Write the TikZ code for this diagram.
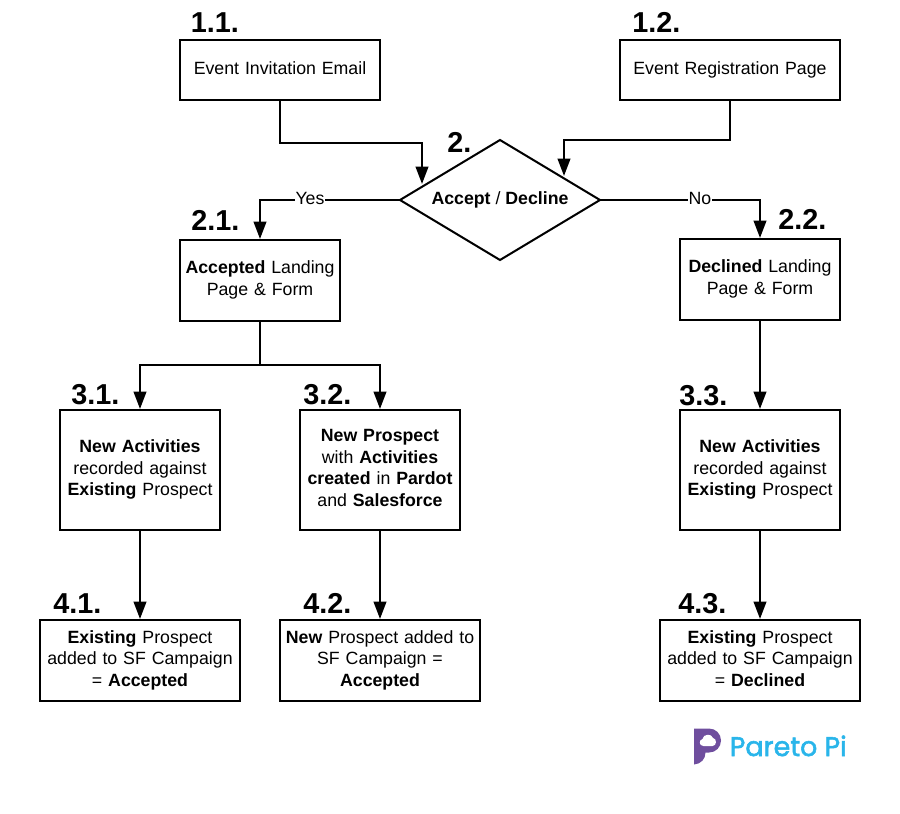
\documentclass[tikz,border=0pt]{standalone}
\usepackage{fontspec}
\setmainfont{Liberation Sans}
\newfontfamily\logofont[FakeBold=2]{Poppins}
\usetikzlibrary{arrows.meta,shapes.geometric}
\definecolor{logoblue}{HTML}{29B5EA}
\definecolor{logopurple}{HTML}{6F4E9E}
\tikzset{
  x=0.75pt,y=-0.75pt,
  flowbox/.style={draw=black,line width=1.5pt,fill=white,align=center,inner sep=0pt,font=\bodyfont},
  numlabel/.style={font=\numfont,anchor=base west,inner sep=0pt},
  conn/.style={draw=black,line width=1.5pt,shorten >=0.8pt,-{Triangle[length=13pt,width=9.5pt]}},
  plainconn/.style={draw=black,line width=1.5pt},
  edgetext/.style={fill=white,inner sep=0.6pt,font=\bodyfont}
}
\newcommand{\bodyfont}{\fontsize{13.3}{16.2}\selectfont}
\newcommand{\numfont}{\fontsize{21.6}{26}\selectfont\bfseries}
\newcommand{\boxat}[6]{% name, x1, y1, x2, y2, text
  \pgfmathsetmacro{\bw}{(#4-#2)*0.75}
  \pgfmathsetmacro{\bh}{(#5-#3)*0.75}
  \node[flowbox,minimum width=\bw pt,minimum height=\bh pt,text width=\bw pt-1pt,outer sep=0pt] (#1) at ({(#2+#4)/2},{(#3+#5)/2}) {\strut#6\strut\vspace{0.3pt}};}
\begin{document}
\begin{tikzpicture}
\useasboundingbox (0,0) rectangle (900,814);
\boxat{a1}{180}{40}{380}{100}{Event Invitation Email}
\boxat{a2}{620}{40}{840}{100}{Event Registration Page}
\node[diamond,draw=black,line width=1.5pt,minimum width=150pt,minimum height=90pt,aspect=1.667,inner sep=0pt,outer sep=0pt,font=\bodyfont] (dia) at (500,200) {\makebox[0pt]{\raisebox{2pt}{\textbf{Accept} / \textbf{Decline}}}};
\boxat{b1}{180}{240}{340}{321}{\textbf{Accepted} Landing\\Page \& Form}
\boxat{b2}{680}{239}{840}{320}{\textbf{Declined} Landing\\Page \& Form}
\boxat{c1}{60}{410}{220}{530}{\textbf{New Activities}\\recorded against\\\textbf{Existing} Prospect}
\boxat{c2}{300}{410}{460}{530}{\textbf{New Prospect}\\with \textbf{Activities}\\\textbf{created} in \textbf{Pardot}\\and \textbf{Salesforce}}
\boxat{c3}{680}{410}{840}{530}{\textbf{New Activities}\\recorded against\\\textbf{Existing} Prospect}
\boxat{d1}{40}{620}{240}{701}{\textbf{Existing} Prospect\\added to SF Campaign\\= \textbf{Accepted}}
\boxat{d2}{280}{620}{480}{701}{\textbf{New} Prospect added to\\SF Campaign =\\\textbf{Accepted}}
\boxat{d3}{660}{620}{860}{701}{\textbf{Existing} Prospect\\added to SF Campaign\\= \textbf{Declined}}

\node[numlabel] (n11) at (190.5,32) {1.1.};
\node[numlabel] (n12) at (632,32) {1.2.};
\node[numlabel] (n2) at (447,152) {2.};
\node[numlabel] (n21) at (191,230) {2.1.};
\node[numlabel] (n22) at (778,229) {2.2.};
\node[numlabel] (n31) at (71,404) {3.1.};
\node[numlabel] (n32) at (303,404) {3.2.};
\node[numlabel] (n33) at (679,405) {3.3.};
\node[numlabel] (n41) at (53,613) {4.1.};
\node[numlabel] (n42) at (303,613) {4.2.};
\node[numlabel] (n43) at (678,613) {4.3.};

\coordinate (e1) at (422,185);
\coordinate (e2) at (564,177);
\draw[conn] (a1.south) -- (280,142.5) -- (422,142.5) -- (e1);
\draw[conn] (a2.south) -- (730,140) -- (564,140) -- (e2);
\draw[conn] (dia.west) -- node[edgetext,pos=0.643,yshift=1.5pt] (yes) {Yes} (260,200) -- (b1.north);
\draw[conn] (dia.east) -- node[edgetext,pos=0.625,yshift=1.5pt] (no) {No} (760,200) -- (b2.north);
\coordinate (fork) at (260,365);
\draw[plainconn] (b1.south) -- (fork);
\draw[conn] (fork) -- (140,365) -- (c1.north);
\draw[conn] (fork) -- (380,365) -- (c2.north);
\draw[conn] (b2.south) -- (c3.north);
\draw[conn] (c1.south) -- (d1.north -| c1.south);
\draw[conn] (c2.south) -- (d2.north);
\draw[conn] (c3.south) -- (d3.north -| c3.south);

% logo
\fill[logopurple] (694,728.5) -- (709,728.5) .. controls (716,728.5) and (721,734) .. (721,740.5) .. controls (721,747) and (716,752.5) .. (709,752.5) -- (705.5,752.5) .. controls (705.5,759) and (701,764) .. (694,764.5) -- cycle;
\fill[white] (703.5,746) .. controls (699,746) and (698.5,740) .. (702.5,739) .. controls (703,734) and (711.5,733) .. (713,738) .. controls (717,738.5) and (717,746) .. (712.5,746) -- cycle;
\node[font=\fontsize{20.2}{24}\selectfont\logofont,text=logoblue,anchor=base west,inner sep=0pt] (logo) at (729.5,756) {Pareto Pi};
\end{tikzpicture}
\end{document}
